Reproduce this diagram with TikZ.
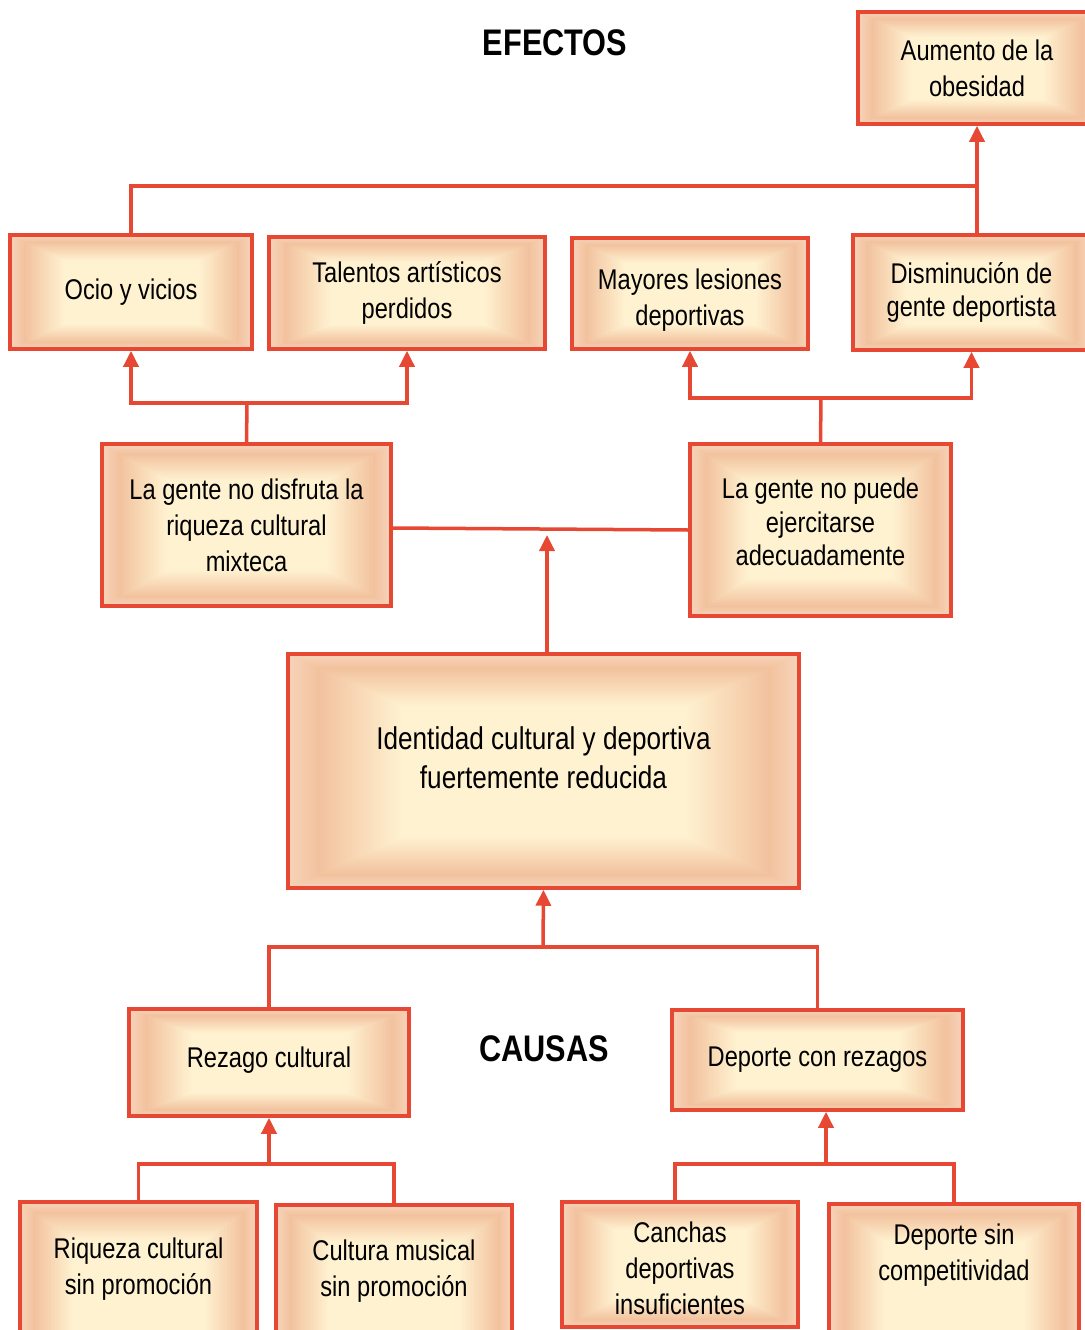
\documentclass[tikz,border=0pt]{standalone}
\usepackage{fontspec}
\setmainfont[FakeStretch=0.83]{Liberation Sans}
\usetikzlibrary{arrows.meta,calc}
\definecolor{boxred}{RGB}{230,72,52}
\pgfdeclarefunctionalshading{rectbox}{\pgfpoint{-50bp}{-50bp}}{\pgfpoint{50bp}{50bp}}{}{
  abs exch abs 2 copy lt {exch} if pop 25 div
  dup 0.55 lt {pop 1 0.95 0.82}
  {dup 0.88 lt
     {0.55 sub 0.33 div dup dup -0.20 mul 0.82 add 3 1 roll -0.19 mul 0.95 add 3 1 roll -0.05 mul 1 add 3 1 roll}
     {0.88 sub 0.12 div dup 1 gt {pop 1} if dup dup 0.11 mul 0.62 add 3 1 roll 0.07 mul 0.76 add 3 1 roll 0.02 mul 0.95 add 3 1 roll}
   ifelse}
  ifelse
}
\tikzset{
  box/.style={draw=boxred, line width=3.5pt, shading=rectbox, inner sep=0pt, align=center,
    font=\fontsize{28.5}{36}\selectfont},
  conn/.style={draw=boxred, line width=3.5pt},
  arr/.style={conn, -{Triangle[width=15pt,length=16pt]}},
  title/.style={font=\fontsize{37}{40}\selectfont\bfseries, inner sep=0pt}
}
\newcommand\bx[7][]{\node[box,#1, minimum width={(#4-#2)*1pt}, minimum height={(#5-#3)*1pt}]
  (#6) at ({(#2+#4)/2},{(#3+#5)/2}) {#7};}
\begin{document}
\begin{tikzpicture}[x=1pt,y=-1pt]
\useasboundingbox (0,0) rectangle (1084,1330);
% titles
\node[title] (efectos) at (555,43) {EFECTOS};
\node[title] (causas) at (544,1049) {CAUSAS};
% boxes
\bx{858}{12}{1096}{124}{aumento}{Aumento de la\\obesidad}
\bx{10}{235}{252}{349}{ocio}{Ocio y vicios}
\bx{269}{237}{545}{349}{talentos}{Talentos artísticos\\perdidos}
\bx{572}{238}{808}{349}{mayores}{Mayores lesiones\\deportivas\\[-44pt]}
\bx[font=\fontsize{28.5}{33.5}\selectfont]{853}{235}{1090}{350}{disminu}{Disminución de\\gente deportista}
\bx{102}{444}{391}{606}{disfruta}{La gente no disfruta la\\riqueza cultural\\mixteca}
\bx[font=\fontsize{28.5}{33.5}\selectfont]{690}{444}{951}{616}{puede}{La gente no puede\\ejercitarse\\adecuadamente\\[-17.5pt]}
\bx[font=\fontsize{31.5}{39}\selectfont]{288}{654}{799}{888}{identidad}{Identidad cultural y deportiva\\fuertemente reducida\\[-13pt]}
\bx{129}{1009}{409}{1116}{rezago}{Rezago cultural\\[-26pt]}
\bx{672}{1010}{963}{1110}{deporte}{Deporte con rezagos}
\bx{20}{1202}{257}{1372}{riqueza}{Riqueza cultural\\sin promoción\\[6pt]}
\bx{276}{1205}{512}{1372}{musical}{Cultura musical\\sin promoción\\[4pt]}
\bx{562}{1202}{798}{1327}{canchas}{Canchas\\deportivas\\insuficientes\\[-44pt]}
\bx{829}{1204}{1079}{1372}{sincomp}{Deporte sin\\competitividad\\[36pt]}
% junctions
\coordinate (jtop) at (977,186);
\coordinate (jl) at (247,403);
\coordinate (jr) at (821,398);
\coordinate (mid) at (547,535);
\coordinate (jbot) at (543,947);
\coordinate (jrz) at (269,1164);
\coordinate (jc) at (826,1164);
% connectors - effects
\draw[conn] (ocio.north) |- (jtop);
\draw[arr] (jtop |- disminu.north) -- (jtop |- aumento.south);
\draw[conn] (disfruta.north) -- (jl);
\draw[arr] (jl) -| (ocio.south);
\draw[arr] (jl) -| (talentos.south);
\draw[conn] (puede.north) -- (jr);
\draw[arr] (jr) -| (mayores.south);
\draw[arr] (jr) -| (disminu.south);
\draw[conn] ($(disfruta.east)+(0,3)$) -- (puede.west);
\draw[arr] (mid |- identidad.north) -- (mid);
% connectors - causes
\draw[conn] (rezago.north) |- (deporte.north |- jbot) -- (deporte.north);
\draw[arr] (jbot) -- (identidad.south);
\draw[conn] (riqueza.north) |- (musical.north |- jrz) -- (musical.north);
\draw[arr] (jrz) -- (rezago.south);
\draw[conn] ($(canchas.north)+(-5,0)$) |- (sincomp.north |- jc) -- (sincomp.north);
\draw[arr] (jc) -- (jc |- deporte.south);
\end{tikzpicture}
\end{document}
